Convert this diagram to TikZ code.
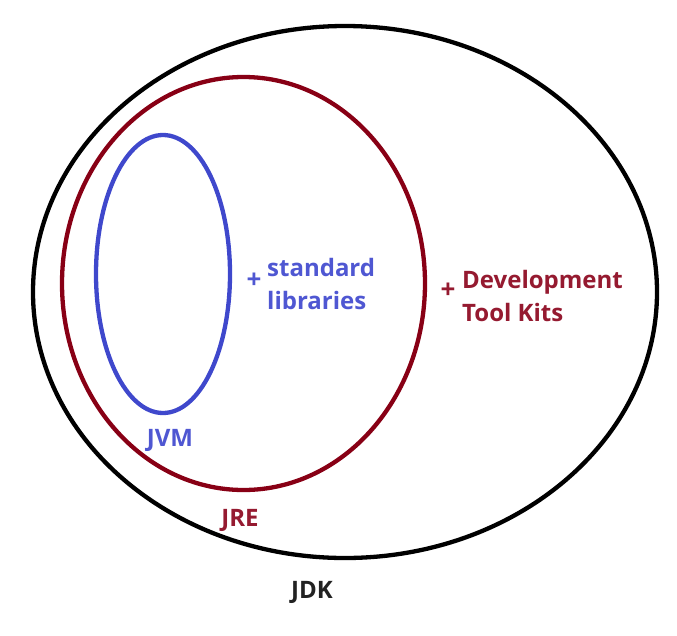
\documentclass[tikz,border=0pt]{standalone}
\usetikzlibrary{shapes.geometric}
\usepackage{fontspec}
\setmainfont{Open Sans}
\definecolor{jdkline}{HTML}{000000}
\definecolor{jreline}{HTML}{880015}
\definecolor{jvmline}{HTML}{3F48CC}
\definecolor{jvmtext}{HTML}{4F57D2}
\definecolor{jretext}{HTML}{951A30}
\definecolor{jdktext}{HTML}{222222}
\begin{document}
\begin{tikzpicture}[x=1pt,y=-1pt,
  ring/.style={line width=4.3pt, ellipse, inner sep=0pt},
  lbl/.style={font=\fontsize{24}{33}\selectfont\bfseries, inner sep=0pt},
  lbll/.style={lbl, anchor=west, align=left},
  plus/.style={font=\fontsize{26}{26}\selectfont\bfseries, inner sep=0pt}]
\useasboundingbox (0,0) rectangle (677,635);
\node[ring, draw=jdkline, minimum width=624pt, minimum height=532pt] (jdk) at (345,292) {};
\node[ring, draw=jreline, minimum width=363pt, minimum height=413pt] (jre) at (243.5,283.5) {};
\node[ring, draw=jvmline, minimum width=134pt, minimum height=278pt] (jvm) at (163,274) {};
\node[plus, text=jvmtext] (p1) at (254,281) {+};
\node[lbll, text=jvmtext] (std) at (267,283.5) {standard\\libraries};
\node[plus, text=jretext] (p2) at (448,291) {+};
\node[lbll, text=jretext] (dev) at (462,295.5) {Development\\Tool Kits};
\node[lbl, text=jvmtext] (tjvm) at (170,440) {JVM};
\node[lbl, text=jretext] (tjre) at (240,520) {JRE};
\node[lbl, text=jdktext] (tjdk) at (312,592) {JDK};
\end{tikzpicture}
\end{document}
